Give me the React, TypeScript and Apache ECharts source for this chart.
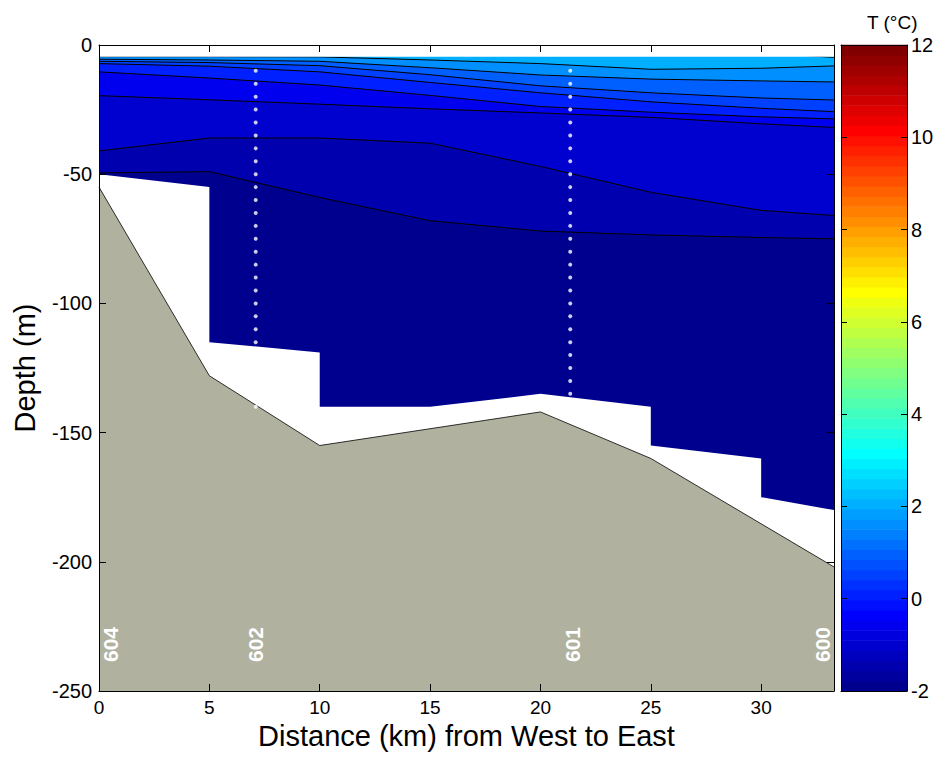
import React, { useEffect, useRef } from "react";
import * as echarts from "echarts";

// ---------------- data ----------------
const distanceKm = [0, 5, 10, 15, 20, 25, 30, 33.3];

// isotherm levels (°C) and their depths (m) at distanceKm
const isothermLevels = [2.5, 2.0, 1.5, 1.0, 0.5, 0.0, -0.5, -1.0, -1.5];
const iso2p5 = [-3, -3, -3, -3, -3, -3, -3, -4.8];
const iso2p0 = [-4.5, -4.5, -4.6, -5.8, -7.2, -9.4, -9.0, -8.1];
const iso1p5 = [-5.5, -5.8, -6.3, -8.8, -11.6, -13.2, -13.9, -14.3];
const iso1p0 = [-6.3, -6.8, -8.0, -11.5, -15.8, -18.5, -20.5, -21.3];
const iso0p5 = [-7.2, -8.2, -10.4, -14.5, -18.5, -22.0, -24.5, -25.8];
const iso0p0 = [-10.4, -12.8, -15.5, -19.5, -23.8, -26.0, -27.8, -28.6];
const isoM0p5 = [-19.6, -21.2, -22.9, -24.7, -26.3, -28.0, -30.5, -31.9];
const isoM1p0 = [-41, -36, -36, -38, -47, -57, -64, -66];
const isoM1p5 = [-49.5, -49, -59, -68, -72, -73.5, -74.5, -75];
const isotherms = [iso2p5, iso2p0, iso1p5, iso1p0, iso0p5, iso0p0, isoM0p5, isoM1p0, isoM1p5];

// gridded data domain
const dataTopDepth = -4.5;
const dataBottomKm = [0, 5, 5, 10, 10, 15, 20, 25, 25, 30, 30, 33.3];
const dataBottomDepth = [-50, -55, -115, -119, -140, -140, -135, -140, -155, -160, -175, -180];

// sea floor
const seabedKm = [0, 5, 10, 20, 25, 33.3];
const seabedDepth = [-55, -128, -155, -142, -160, -202];

// stations
const stationNames = ["604", "602", "601", "600"];
const stationKm = [0, 7.1, 21.35, 33.3];
const cast602Depths = [-10, -15, -20, -25, -30, -35, -40, -45, -50, -55, -60, -65, -70, -75, -80, -85, -90, -95, -100, -105, -110, -115];
const cast601Depths = [-10, -15, -20, -25, -30, -35, -40, -45, -50, -55, -60, -65, -70, -75, -80, -85, -90, -95, -100, -105, -110, -115, -120, -125, -130, -135];
const bottom602Depth = [-140];

// colour scale
const cMin = -2;
const cMax = 12;
const nColors = 64;

// ---------------- helpers ----------------
function jet(i: number): string {
  const r = i <= 24 ? 0 : i <= 40 ? (i - 24) / 16 : i <= 56 ? 1 : (72 - i) / 16;
  const g = i <= 8 ? 0 : i <= 24 ? (i - 8) / 16 : i <= 40 ? 1 : i <= 56 ? (56 - i) / 16 : 0;
  const b = i <= 8 ? (i + 8) / 16 : i <= 24 ? 1 : i <= 40 ? (40 - i) / 16 : 0;
  const h = (v: number) => Math.round(v * 255).toString(16).padStart(2, "0");
  return "#" + h(r) + h(g) + h(b);
}
function colorOf(t: number): string {
  let i = Math.floor(((t - cMin) / (cMax - cMin)) * nColors) + 1;
  i = Math.max(1, Math.min(nColors, i));
  return jet(i);
}

const FONT = "'Liberation Sans', Arial, Helvetica, sans-serif";
const LABEL_DEPTH = -232;
const LABEL_DX = [11, 0, 2, -12];
const BOTTOM = -250;
const XMAX = 33.3;

type Poly = { pts: number[][]; color: string };

// painter's bands: full column in top colour, then each isotherm down to the bottom
const bandPolys: Poly[] = [];
bandPolys.push({
  pts: [[0, 0], [XMAX, 0], [XMAX, BOTTOM], [0, BOTTOM]],
  color: colorOf(isothermLevels[0]),
});
isotherms.forEach((arr, k) => {
  const pts = distanceKm.map((x, i) => [x, arr[i]]);
  pts.push([XMAX, BOTTOM], [0, BOTTOM]);
  bandPolys.push({ pts, color: colorOf(isothermLevels[k] - 0.5) });
});

const maskPolys: Poly[] = [
  { pts: [[0, 0], [XMAX, 0], [XMAX, dataTopDepth], [0, dataTopDepth]], color: "#ffffff" },
  {
    pts: [...dataBottomKm.map((x, i) => [x, dataBottomDepth[i]]), [XMAX, BOTTOM], [0, BOTTOM]],
    color: "#ffffff",
  },
];

const seabedPolys: Poly[] = [
  { pts: [...seabedKm.map((x, i) => [x, seabedDepth[i]]), [XMAX, BOTTOM], [0, BOTTOM]], color: "#b0b29f" },
];

function polySeries(polys: Poly[], z: number) {
  return {
    type: "custom",
    xAxisIndex: 0,
    yAxisIndex: 0,
    clip: true,
    silent: true,
    z,
    data: polys.map((_, i) => [i]),
    renderItem: (params: any, api: any) => {
      const p = polys[params.dataIndex];
      return {
        type: "polygon",
        shape: { points: p.pts.map((pt) => api.coord(pt)) },
        style: { fill: p.color, stroke: null },
      };
    },
  };
}

const colorbarIdx = Array.from({ length: nColors }, (_, i) => [i]);

const axisLineBlack = { show: true, onZero: false, lineStyle: { color: "#000", width: 1 } };

const option: any = {
  animation: false,
  backgroundColor: "#ffffff",
  textStyle: { fontFamily: FONT },
  title: {
    text: "T (°C)",
    left: 862,
    top: 8,
    textStyle: { fontFamily: FONT, fontSize: 19, fontWeight: "normal", color: "#000" },
  },
  grid: [
    { left: 99, top: 45, width: 735, height: 646 },
    { left: 841, top: 45, width: 66, height: 646 },
  ],
  xAxis: [
    {
      gridIndex: 0,
      type: "value",
      min: 0,
      max: XMAX,
      interval: 5,
      position: "bottom",
      z: 10,
      axisLine: axisLineBlack,
      axisTick: { show: true, inside: true, length: 7, lineStyle: { color: "#000" } },
      axisLabel: { fontSize: 19, color: "#000", margin: 7, showMaxLabel: false, fontFamily: FONT },
      splitLine: { show: false },
      name: "Distance (km) from West to East",
      nameLocation: "middle",
      nameGap: 22,
      nameTextStyle: { fontSize: 29, color: "#000", fontFamily: FONT },
    },
    {
      gridIndex: 0,
      type: "value",
      min: 0,
      max: XMAX,
      interval: 5,
      position: "top",
      z: 10,
      axisLine: axisLineBlack,
      axisTick: { show: true, inside: true, length: 7, lineStyle: { color: "#000" } },
      axisLabel: { show: false },
      splitLine: { show: false },
    },
    {
      gridIndex: 1,
      type: "value",
      min: 0,
      max: 1,
      position: "bottom",
      z: 10,
      axisLine: axisLineBlack,
      axisTick: { show: false },
      axisLabel: { show: false },
      splitLine: { show: false },
    },
    {
      gridIndex: 1,
      type: "value",
      min: 0,
      max: 1,
      position: "top",
      z: 10,
      axisLine: axisLineBlack,
      axisTick: { show: false },
      axisLabel: { show: false },
      splitLine: { show: false },
    },
  ],
  yAxis: [
    {
      gridIndex: 0,
      type: "value",
      min: -250,
      max: 0,
      interval: 50,
      position: "left",
      z: 10,
      axisLine: axisLineBlack,
      axisTick: { show: true, inside: true, length: 7, lineStyle: { color: "#000" } },
      axisLabel: { fontSize: 20, color: "#000", margin: 7, fontFamily: FONT },
      splitLine: { show: false },
      name: "Depth (m)",
      nameLocation: "middle",
      nameGap: 60,
      nameRotate: 90,
      nameTextStyle: { fontSize: 29, color: "#000", fontFamily: FONT },
    },
    {
      gridIndex: 0,
      type: "value",
      min: -250,
      max: 0,
      interval: 50,
      position: "right",
      z: 10,
      axisLine: axisLineBlack,
      axisTick: { show: true, inside: true, length: 7, lineStyle: { color: "#000" } },
      axisLabel: { show: false },
      splitLine: { show: false },
    },
    {
      gridIndex: 1,
      type: "value",
      min: cMin,
      max: cMax,
      interval: 2,
      position: "right",
      z: 10,
      axisLine: axisLineBlack,
      axisTick: { show: true, inside: true, length: 6, lineStyle: { color: "#000" } },
      axisLabel: { fontSize: 20, color: "#000", margin: 4, fontFamily: FONT },
      splitLine: { show: false },
    },
    {
      gridIndex: 1,
      type: "value",
      min: cMin,
      max: cMax,
      interval: 2,
      position: "left",
      z: 10,
      axisLine: axisLineBlack,
      axisTick: { show: true, inside: true, length: 6, lineStyle: { color: "#000" } },
      axisLabel: { show: false },
      splitLine: { show: false },
    },
  ],
  series: [
    polySeries(bandPolys, 1),
    ...isotherms.map((arr) => ({
      type: "line",
      xAxisIndex: 0,
      yAxisIndex: 0,
      data: distanceKm.map((x, i) => [x, arr[i]]),
      symbol: "none",
      silent: true,
      clip: true,
      z: 2,
      lineStyle: { color: "#000", width: 1 },
    })),
    polySeries(maskPolys, 3),
    polySeries(seabedPolys, 4),
    {
      type: "line",
      xAxisIndex: 0,
      yAxisIndex: 0,
      data: seabedKm.map((x, i) => [x, seabedDepth[i]]),
      symbol: "none",
      silent: true,
      z: 5,
      lineStyle: { color: "#000", width: 0.8 },
    },
    {
      type: "scatter",
      xAxisIndex: 0,
      yAxisIndex: 0,
      symbol: "circle",
      symbolSize: 4,
      silent: true,
      z: 6,
      itemStyle: { color: "#ffffff" },
      data: [
        ...cast602Depths.map((d) => [stationKm[1], d]),
        ...bottom602Depth.map((d) => [stationKm[1], d]),
        ...cast601Depths.map((d) => [stationKm[2], d]),
      ],
    },
    {
      type: "custom",
      xAxisIndex: 0,
      yAxisIndex: 0,
      silent: true,
      clip: false,
      z: 7,
      data: stationKm.map((x) => [x, LABEL_DEPTH]),
      renderItem: (params: any, api: any) => {
        const i = params.dataIndex;
        const p = api.coord([api.value(0), api.value(1)]);
        return {
          type: "text",
          x: p[0] + LABEL_DX[i],
          y: p[1],
          rotation: Math.PI / 2,
          style: {
            text: stationNames[i],
            fill: "#ffffff",
            font: `bold 21px ${FONT}`,
            align: "center",
            verticalAlign: "middle",
          },
        };
      },
    },
    {
      type: "custom",
      xAxisIndex: 2,
      yAxisIndex: 2,
      silent: true,
      z: 1,
      data: colorbarIdx,
      renderItem: (params: any, api: any) => {
        const i = params.dataIndex;
        const step = (cMax - cMin) / nColors;
        const p0 = api.coord([0, cMin + i * step]);
        const p1 = api.coord([1, cMin + (i + 1) * step]);
        return {
          type: "rect",
          shape: { x: p0[0], y: p1[1] - 0.3, width: p1[0] - p0[0], height: p0[1] - p1[1] + 0.6 },
          style: { fill: jet(i + 1) },
        };
      },
    },
  ],
};

export default function App() {
  const ref = useRef<HTMLDivElement>(null);
  useEffect(() => {
    if (!ref.current) return;
    const chart = echarts.init(ref.current, null, { renderer: "svg", width: 943, height: 759 });
    chart.setOption(option);
    return () => chart.dispose();
  }, []);
  return (
    <div
      ref={ref}
      style={{ position: "absolute", left: 0, top: 0, width: 943, height: 759, background: "#fff" }}
    />
  );
}
